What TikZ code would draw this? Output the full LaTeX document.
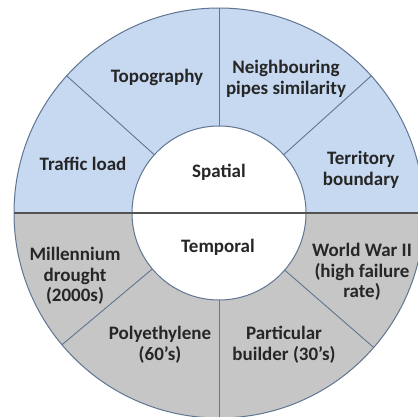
\documentclass[tikz,border=0pt]{standalone}
\usepackage{fontspec}
\setmainfont{Carlito}
\usetikzlibrary{calc}
\definecolor{topblue}{HTML}{C6D9F0}
\definecolor{botgrey}{HTML}{C6C6C6}
\definecolor{edge}{HTML}{5F7591}
\definecolor{txt}{HTML}{262626}
\begin{document}
\begin{tikzpicture}[x=1pt,y=1pt,
  lbl/.style={align=center,text=txt,font=\bfseries\fontsize{19}{20.5}\selectfont,inner sep=0pt},
  divider/.style={draw=edge,line width=0.9pt}]
\useasboundingbox (0,0) rectangle (418,-417);
\fill[white] (0,0) rectangle (418,-417);
\coordinate (c) at (219,-213);
\def\R{205}
\def\r{87}
% halves
\fill[topblue] (c) -- ++(0:\R) arc[start angle=0,end angle=180,radius=\R] -- cycle;
\fill[botgrey] (c) -- ++(180:\R) arc[start angle=180,end angle=360,radius=\R] -- cycle;
% dividers
\foreach \a in {42,90,138,220,270,319}{
  \draw[divider] ($(c)+(\a:\r)$) -- ($(c)+(\a:\R)$);
}
% outer ring
\draw[edge,line width=1pt] (c) circle[radius=\R];
% inner circle
\draw[edge,line width=1pt,fill=white] (c) circle[radius=\r];
% horizontal line
\draw[draw=black!68,line width=2.5pt] ($(c)+(180:\R)$) -- ($(c)+(0:\R)$);
% labels
\node[lbl] (topo) at (157,-77) {Topography};
\node[lbl] (neigh) at (286,-79) {Neighbouring\\pipes similarity};
\node[lbl] (traffic) at (83,-164) {Traffic load};
\node[lbl] (spatial) at (219,-172) {Spatial};
\node[lbl] (terr) at (361,-170) {Territory\\boundary};
\node[lbl] (temporal) at (218,-247) {Temporal};
\node[lbl] (mill) at (75,-276) {Millennium\\drought\\(2000s)};
\node[lbl] (ww) at (362,-272) {World War II\\(high failure\\rate)};
\node[lbl] (poly) at (160,-345) {Polyethylene\\(60's)};
\node[lbl] (part) at (284,-345) {Particular\\builder (30's)};
\end{tikzpicture}
\end{document}
